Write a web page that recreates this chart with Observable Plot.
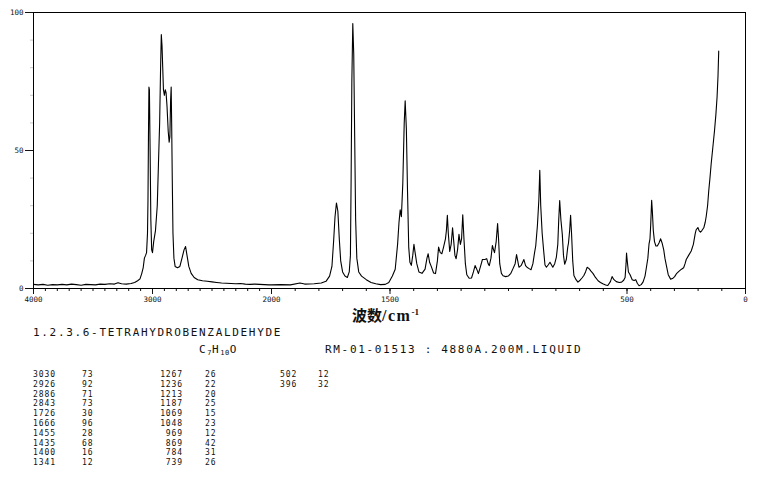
<!DOCTYPE html>
<html><head><meta charset="utf-8">
<script src="https://cdn.jsdelivr.net/npm/d3@7"></script>
<script src="https://cdn.jsdelivr.net/npm/@observablehq/plot@0.6"></script>
<style>
body{margin:0;background:#fff;}
#wrap{position:relative;width:761px;height:477px;overflow:hidden;background:#fff;}
#wrap svg{position:absolute;left:0;top:0;}
.t{position:absolute;font-family:"DejaVu Sans Mono",monospace;color:#111;white-space:pre;line-height:1;}
.big{font-size:11px;letter-spacing:1.68px;}
.tab{font-size:8px;letter-spacing:0.9px;line-height:9.8px;}
.xt{position:absolute;font-family:"Liberation Serif","Noto Sans CJK SC",serif;font-weight:bold;font-size:15px;line-height:1;color:#111;white-space:pre;}
.xt .lat{font-size:16px;letter-spacing:1.5px;}
sub{font-size:7px;vertical-align:-2px;letter-spacing:0.5px;}
</style></head><body><div id="wrap"></div>
<script>
// Spectrum (Raman shift, cm-1) and relative intensity
const wavenumbers = [4000,3960,3920,3880,3840,3800,3760,3720,3680,3640,3600,3560,3520,3480,3440,3400,3360,3320,3290,3260,3220,3180,3150,3125,3105,3090,3078,3068,3058,3050,3042,3038,3034,3030,3026,3020,3014,3007,3000,2990,2975,2960,2950,2940,2932,2926,2920,2914,2908,2900,2893,2886,2878,2868,2860,2854,2848,2843,2839,2834,2828,2820,2810,2790,2770,2752,2735,2722,2710,2695,2675,2650,2620,2580,2540,2500,2460,2420,2380,2340,2300,2260,2220,2180,2140,2100,2060,2020,
2000,1960,1920,1880,1860,1820,1790,1770,1755,1745,1738,1732,1726,1720,1714,1708,1700,1690,1680,1672,1667,1664,1661,1657,1653,1649,1645,1640,1632,1620,1600,1580,1560,1540,1520,1505,1490,1478,1468,1462,1457,1452,1446,1440,1436,1431,1426,1421,1416,1410,1404,1399,1394,1387,1378,1365,1352,1344,1339,1333,1326,1316,1308,1300,1295,1288,1281,1274,1266,1262,1258,1254,1248,1242,1236,1231,1226,1221,1215,1209,1203,1198,1193,1188,1182,1176,1166,1156,1148,1141,1134,1127,1118,1110,1100,1092,1086,1081,1074,1068,1063,1059,1052,1046,1042,1037,1030,1023,1012,1001,990,981,972,966,961,956,946,935,928,922,913,905,897,890,885,878,872,868,864,858,852,846,840,832,825,819,813,805,798,792,788,784,779,773,768,763,756,750,747,742,738,734,729,724,715,707,698,690,682,675,668,660,652,643,633,622,612,602,590,581,570,563,555,545,533,523,514,508,504,502,499,494,487,478,470,463,456,449,440,432,424,418,412,407,403,400,396,393,389,384,378,372,365,358,352,345,340,334,326,316,308,299,290,280,270,261,255,250,240,229,220,212,208,201,196,190,184,176,170,166,160,155,150,145,138,131,125,120,116,113];
const intensities = [1.5,1.3,1.5,1.2,1.4,1.3,1.5,1.3,1.6,1.4,1.2,1.5,1.4,1.3,1.6,1.5,1.7,1.6,2.1,1.7,1.6,1.8,2.2,2.8,3.5,5.5,7.6,11,12,13,20,32,55,73,72,50,25,14,13,17,21,30,45,60,80,92,88,80,72,70,72,71,66,57,53,55,68,73,60,40,20,11,8,7.5,8,11,14,15.2,12,8,5.5,4,3.2,2.8,2.6,2.4,2.2,2.0,1.9,1.8,1.7,1.8,1.6,1.5,1.6,1.5,1.4,1.3,
1.3,1.4,1.3,2.0,1.6,1.7,2.0,2.6,4.5,8,17,26,31,28,18,10,6,4.5,4,6,12,40,75,96,85,55,25,11,6,4.5,3.2,2.2,1.7,1.4,1.5,2.2,4.5,7,16,24,28.5,26,38,60,68,58,35,15,9.5,8.4,12,16,13,9,6,5.5,7,11,12.6,9.5,8,5.6,5.4,10,15,13,12.6,15,18,21,26.5,20,13.4,16,22,17,12,10.8,14,19.6,16,18,26.7,18,9,5,3.7,3.8,6,8.3,7,5.4,8,10.5,10.5,10.8,9,8.3,11,15.6,14,13,17,23.5,18,9,5.5,4.6,4.3,4.5,5.5,7.2,9,12.3,10,7.7,8.4,10.5,8.3,7.7,7.2,6.8,9,13,15.5,22.8,32,42.8,30,20,14,8.5,7.7,8.6,9.5,8.6,7.7,9,11.4,16,25,31.9,25,19.6,12,8.8,10.5,15,16.4,21,26.5,20,10,4.7,3.2,2.3,3,3.8,4.7,6,7.7,7.2,6.3,5.4,4,2.8,2.2,1.7,1.3,1.1,2.5,4.3,3.2,2.5,2.2,2.3,3,4,9,12.8,10,6,5,3.2,2.9,3.2,1.8,1,1.4,2.4,4.5,7.7,11,16.2,18,23,32,28,21,17,15.4,15.4,16.5,18,16.5,14,11,8.4,5,3.4,3.6,4.3,5.5,6.3,7,7.5,9,10.5,12,13.6,16,20,21.3,22.1,21,20.4,21,22,24,26,30,35.5,40,45,51,57,63,69.3,77,86];

// Axis ticks
const xTickLabels = [4000, 3000, 2000, 1500, 500, 0];
const xMinorTicks = d3.range(0, 4001, 100);
const yTickLabels = [0, 50, 100];
const yMinorTicks = d3.range(0, 101, 10);

// Texts and peak table
const compoundName = "1.2.3.6-TETRAHYDROBENZALDEHYDE";
const sampleInfo = "RM-01-01513 : 4880A.200M.LIQUID";
const peakWnA = [3030, 2926, 2886, 2843, 1726, 1666, 1455, 1435, 1400, 1341];
const peakIntA = [73, 92, 71, 73, 30, 96, 28, 68, 16, 12];
const peakWnB = [1267, 1236, 1213, 1187, 1069, 1048, 969, 869, 784, 739];
const peakIntB = [26, 22, 20, 25, 15, 23, 12, 42, 31, 26];
const peakWnC = [502, 396];
const peakIntC = [12, 32];

const data = wavenumbers.map((w, i) => ({w, v: intensities[i]}));

const plot = Plot.plot({
  width: 761, height: 310,
  marginLeft: 33, marginRight: 16, marginTop: 12, marginBottom: 22,
  style: {fontFamily: "'DejaVu Sans Mono', monospace", fontSize: "7.5px", color: "#111", background: "white", overflow: "visible"},
  x: {type: "linear", domain: [4000, 2000, 0], range: [33, 271, 745]},
  y: {domain: [0, 100], range: [288, 12]},
  marks: [
    Plot.axisX({ticks: xMinorTicks, tickSize: 3, tickFormat: () => "", label: null}),
    Plot.axisX({ticks: xTickLabels, tickSize: 6, tickPadding: 2, tickFormat: d => String(d), label: null}),
    Plot.axisY({ticks: yMinorTicks, tickSize: 3, tickFormat: () => "", stroke: "#c8c8c8", label: null}),
    Plot.axisY({ticks: yTickLabels, tickSize: 8, tickPadding: 2, tickFormat: d => String(d), label: null}),
    Plot.frame({stroke: "black"}),
    Plot.line(data, {x: "w", y: "v", stroke: "black", strokeWidth: 1.1})
  ]
});
const wrap = document.getElementById("wrap");
wrap.appendChild(plot);

function addDiv(cls, html, style) {
  const d = document.createElement("div");
  d.className = cls;
  d.innerHTML = html;
  Object.assign(d.style, style);
  wrap.appendChild(d);
  return d;
}
addDiv("xt", "波数<span class='lat'>/cm</span><sup style='font-size:9px;vertical-align:6px;'>-1</sup>", {left: "352px", top: "308px"});
addDiv("t big", compoundName, {left: "33px", top: "327px"});
addDiv("t big", "C<sub>7</sub>H<sub>10</sub>O", {left: "199px", top: "344px"});
addDiv("t big", sampleInfo, {left: "325px", top: "344px"});
addDiv("t tab", peakWnA.join("\n"), {left: "33px", top: "370px"});
addDiv("t tab", peakIntA.join("\n"), {left: "82px", top: "370px"});
addDiv("t tab", peakWnB.join("\n"), {left: "140px", width: "43px", textAlign: "right", top: "370px"});
addDiv("t tab", peakIntB.join("\n"), {left: "205px", top: "370px"});
addDiv("t tab", peakWnC.join("\n"), {left: "280px", top: "370px"});
addDiv("t tab", peakIntC.join("\n"), {left: "318px", top: "370px"});
</script></body></html>
